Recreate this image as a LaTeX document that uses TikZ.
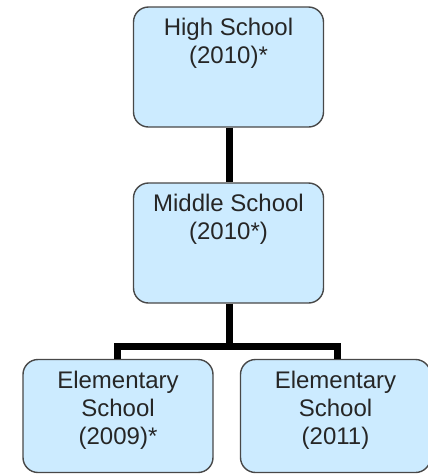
\documentclass[tikz,border=0pt]{standalone}
\usepackage{fontspec}
\setmainfont{Liberation Sans}
\definecolor{boxblue}{RGB}{204,235,255}
\definecolor{boxline}{RGB}{72,72,72}

\begin{document}
\begin{tikzpicture}[x = 1pt, y = -1pt]
\tikzstyle{schoolStyle} = [draw = boxline, line width = 1.4pt, fill = boxblue, rounded corners = 15pt, minimum width = 190pt, minimum height = 120pt, inner sep = 0pt]
\tikzstyle{lowStyle} = [schoolStyle, minimum height = 113pt]
\tikzstyle{textStyle} = [anchor = north, align = center, inner sep = 0pt, yshift = -12pt, font = \fontsize{24}{28}\selectfont, text = black!85]
\tikzstyle{linkStyle} = [line width = 7pt, black]
\useasboundingbox (0,0) rectangle (428,475);
\clip (0,0) rectangle (428,475);
\node[schoolStyle, label = {[textStyle]north:{High School\\(2010)*}}] (high) at (228.5,67) {};
\node[schoolStyle, label = {[textStyle]north:{Middle School\\(2010*)}}] (middle) at (228.5,243) {};
\node[lowStyle, label = {[textStyle]north:{Elementary\\School\\(2009)*}}] (elemA) at (118,416) {};
\node[lowStyle, label = {[textStyle]north:{Elementary\\School\\(2011)}}] (elemB) at (335.5,416) {};
\coordinate (fork) at (229,346);
\coordinate (forkA) at (117,346);
\coordinate (forkB) at (337,346);
\draw[linkStyle] (high.south -| fork) -- (middle.north -| fork);
\draw[linkStyle] (middle.south -| fork) -- (fork);
\draw[linkStyle, line cap = rect] (forkA) -- (forkB);
\draw[linkStyle] (forkA) -- (forkA |- elemA.north);
\draw[linkStyle] (forkB) -- (forkB |- elemB.north);
\end{tikzpicture}
\end{document}
